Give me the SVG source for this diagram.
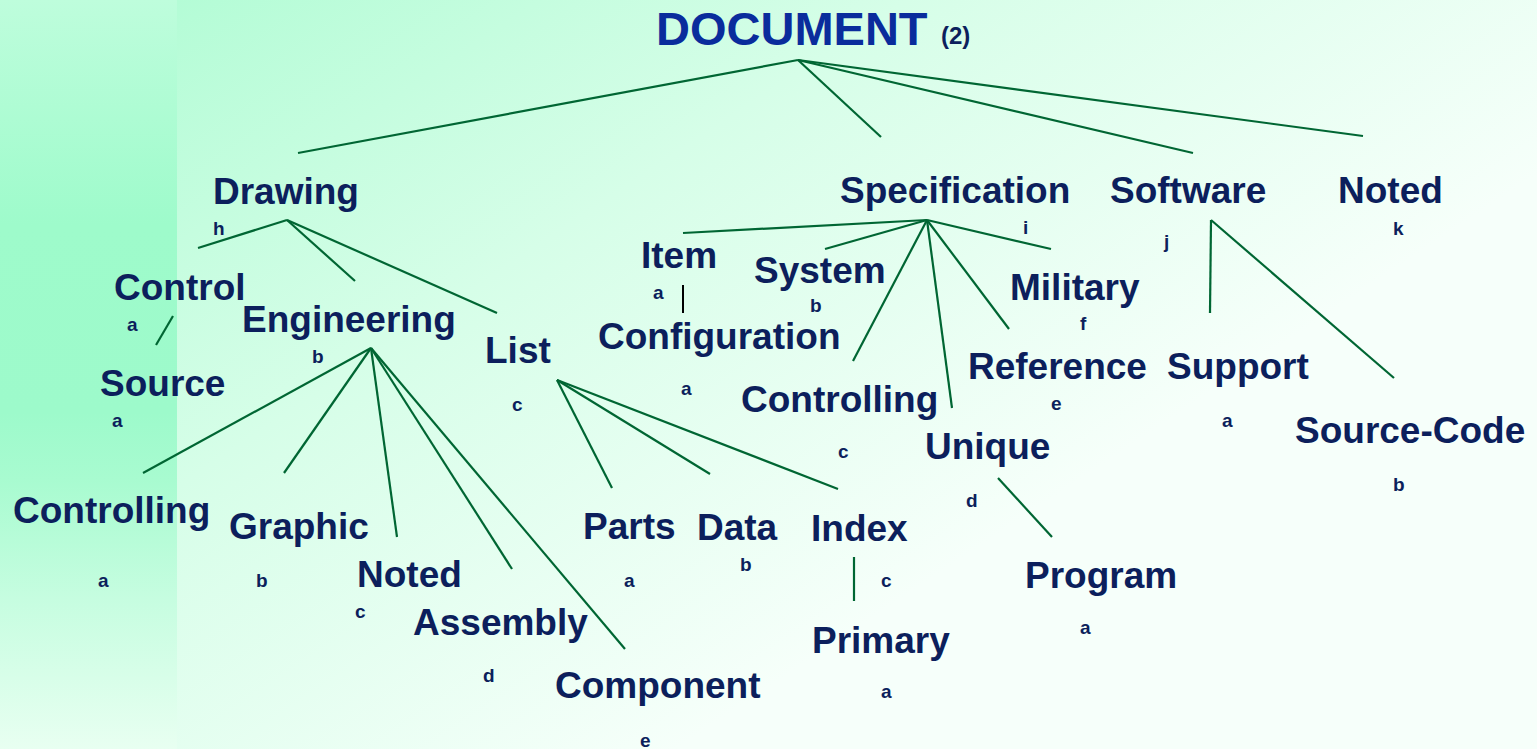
<svg xmlns="http://www.w3.org/2000/svg" width="1537" height="749" viewBox="0 0 1537 749">
  <defs>
    <linearGradient id="bgMain" gradientUnits="userSpaceOnUse" x1="177" y1="0" x2="677" y2="749">
      <stop offset="0" stop-color="#b4fcd6"/>
      <stop offset="0.45" stop-color="#d6fee8"/>
      <stop offset="1" stop-color="#f6fffa"/>
    </linearGradient>
    <linearGradient id="bgBand" x1="0" y1="0" x2="0" y2="1">
      <stop offset="0" stop-color="#befddc"/>
      <stop offset="0.3" stop-color="#9efbcb"/>
      <stop offset="0.55" stop-color="#9dfacb"/>
      <stop offset="0.64" stop-color="#a8fbd0"/>
      <stop offset="0.8" stop-color="#c6fde0"/>
      <stop offset="1" stop-color="#e8fff1"/>
    </linearGradient>
    <style>
      .lbl { font-family: "Liberation Sans", Arial, sans-serif; font-weight: bold; font-size: 37px; fill: #0c1f5c; }
      .sub { font-family: "Liberation Sans", Arial, sans-serif; font-weight: bold; font-size: 19px; fill: #0c1f5c; }
      .title { font-family: "Liberation Sans", Arial, sans-serif; font-weight: bold; font-size: 47px; fill: #0a2c9c; }
      .num { font-family: "Liberation Sans", Arial, sans-serif; font-weight: bold; font-size: 24px; fill: #0c1f5c; }
      .edge { stroke: #006633; stroke-width: 2.2; fill: none; stroke-linecap: butt; }
      .bar { stroke: #000000; stroke-width: 2; }
    </style>
  </defs>

  <!-- background -->
  <rect x="0" y="0" width="1537" height="749" fill="url(#bgMain)"/>
  <rect x="0" y="0" width="177" height="749" fill="url(#bgBand)"/>

  <!-- connectors -->
  <g id="connectors">
    <!-- DOCUMENT -->
    <line class="edge" x1="798" y1="60" x2="298" y2="153"/>
    <line class="edge" x1="798" y1="60" x2="881" y2="137"/>
    <line class="edge" x1="798" y1="60" x2="1193" y2="153"/>
    <line class="edge" x1="798" y1="60" x2="1363" y2="136"/>
    <!-- Drawing -->
    <line class="edge" x1="287" y1="220" x2="198" y2="248"/>
    <line class="edge" x1="287" y1="220" x2="355" y2="281"/>
    <line class="edge" x1="287" y1="220" x2="497" y2="313"/>
    <!-- Control / Source -->
    <line class="edge" x1="173" y1="316" x2="156" y2="345"/>
    <!-- Engineering -->
    <line class="edge" x1="371" y1="348" x2="143" y2="473"/>
    <line class="edge" x1="371" y1="348" x2="284" y2="473"/>
    <line class="edge" x1="371" y1="348" x2="397" y2="537"/>
    <line class="edge" x1="371" y1="348" x2="512" y2="569"/>
    <line class="edge" x1="371" y1="348" x2="625" y2="649"/>
    <!-- List -->
    <line class="edge" x1="557" y1="380" x2="612" y2="488"/>
    <line class="edge" x1="557" y1="380" x2="710" y2="474"/>
    <line class="edge" x1="557" y1="380" x2="838" y2="489"/>
    <!-- Item / Configuration -->
    <line class="bar" x1="683" y1="285" x2="683" y2="313"/>
    <!-- Specification -->
    <line class="edge" x1="927" y1="220" x2="683" y2="233"/>
    <line class="edge" x1="927" y1="220" x2="825" y2="249"/>
    <line class="edge" x1="927" y1="220" x2="853" y2="361"/>
    <line class="edge" x1="927" y1="220" x2="952" y2="408"/>
    <line class="edge" x1="927" y1="220" x2="1009" y2="329"/>
    <line class="edge" x1="927" y1="220" x2="1051" y2="249"/>
    <!-- Unique / Program -->
    <line class="edge" x1="998" y1="478" x2="1052" y2="537"/>
    <!-- Index / Primary -->
    <line class="edge" x1="854" y1="557" x2="854" y2="601"/>
    <!-- Software -->
    <line class="edge" x1="1211" y1="220" x2="1210" y2="313"/>
    <line class="edge" x1="1211" y1="220" x2="1394" y2="378"/>
  </g>

  <!-- nodes -->
  <g id="document"><text class="title" x="656" y="45">DOCUMENT</text><text class="num" x="941" y="44">(2)</text></g>

  <g id="drawing"><text class="lbl" x="213" y="204">Drawing</text><text class="sub" x="213" y="235">h</text></g>
  <g id="specification"><text class="lbl" x="840" y="203">Specification</text><text class="sub" x="1023" y="234">i</text></g>
  <g id="software"><text class="lbl" x="1110" y="203">Software</text><text class="sub" x="1164" y="248">j</text></g>
  <g id="noted-k"><text class="lbl" x="1338" y="203">Noted</text><text class="sub" x="1393" y="235">k</text></g>

  <g id="control"><text class="lbl" x="114" y="300">Control</text><text class="sub" x="127" y="331">a</text></g>
  <g id="source"><text class="lbl" x="100" y="396">Source</text><text class="sub" x="112" y="427">a</text></g>
  <g id="engineering"><text class="lbl" x="242" y="332">Engineering</text><text class="sub" x="312" y="363">b</text></g>
  <g id="list"><text class="lbl" x="485" y="363">List</text><text class="sub" x="512" y="411">c</text></g>

  <g id="controlling-eng"><text class="lbl" x="13" y="523">Controlling</text><text class="sub" x="98" y="587">a</text></g>
  <g id="graphic"><text class="lbl" x="229" y="539">Graphic</text><text class="sub" x="256" y="587">b</text></g>
  <g id="noted-eng"><text class="lbl" x="357" y="587">Noted</text><text class="sub" x="355" y="618">c</text></g>
  <g id="assembly"><text class="lbl" x="413" y="635">Assembly</text><text class="sub" x="483" y="682">d</text></g>
  <g id="component"><text class="lbl" x="555" y="698">Component</text><text class="sub" x="640" y="747">e</text></g>

  <g id="parts"><text class="lbl" x="583" y="539">Parts</text><text class="sub" x="624" y="587">a</text></g>
  <g id="data"><text class="lbl" x="697" y="540">Data</text><text class="sub" x="740" y="571">b</text></g>
  <g id="index"><text class="lbl" x="811" y="541">Index</text><text class="sub" x="881" y="587">c</text></g>
  <g id="primary"><text class="lbl" x="812" y="653">Primary</text><text class="sub" x="881" y="698">a</text></g>

  <g id="item"><text class="lbl" x="641" y="268">Item</text><text class="sub" x="653" y="299">a</text></g>
  <g id="configuration"><text class="lbl" x="598" y="349">Configuration</text><text class="sub" x="681" y="395">a</text></g>
  <g id="system"><text class="lbl" x="754" y="283">System</text><text class="sub" x="810" y="312">b</text></g>
  <g id="controlling-spec"><text class="lbl" x="741" y="412">Controlling</text><text class="sub" x="838" y="458">c</text></g>
  <g id="unique"><text class="lbl" x="925" y="459">Unique</text><text class="sub" x="966" y="507">d</text></g>
  <g id="reference"><text class="lbl" x="968" y="379">Reference</text><text class="sub" x="1051" y="410">e</text></g>
  <g id="military"><text class="lbl" x="1010" y="300">Military</text><text class="sub" x="1080" y="330">f</text></g>
  <g id="program"><text class="lbl" x="1025" y="588">Program</text><text class="sub" x="1080" y="634">a</text></g>

  <g id="support"><text class="lbl" x="1167" y="379">Support</text><text class="sub" x="1222" y="427">a</text></g>
  <g id="source-code"><text class="lbl" x="1295" y="443">Source-Code</text><text class="sub" x="1393" y="491">b</text></g>
</svg>
